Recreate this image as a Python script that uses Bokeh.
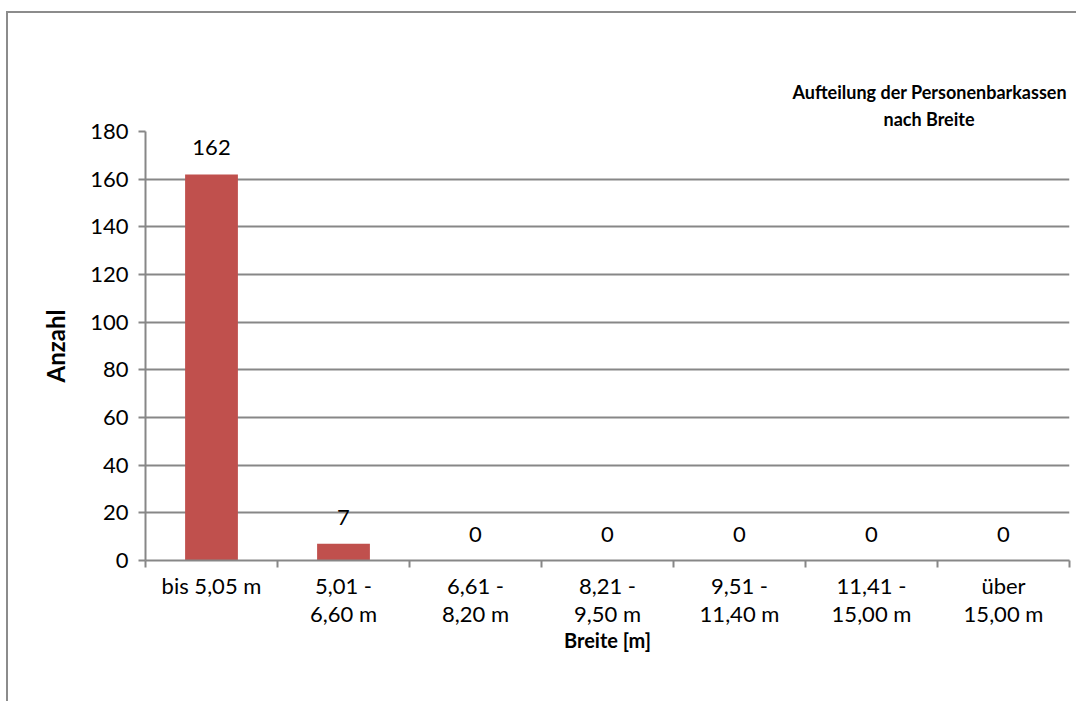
from bokeh.plotting import figure
from bokeh.models import FixedTicker, Title, ColumnDataSource
from bokeh.embed import file_html
from bokeh.resources import INLINE
from bokeh.core.properties import value

categories = ["bis 5,05 m", "5,01 -\n6,60 m", "6,61 -\n8,20 m", "8,21 -\n9,50 m",
              "9,51 -\n11,40 m", "11,41 -\n15,00 m", "über\n15,00 m"]
counts = [162, 7, 0, 0, 0, 0, 0]
y_ticks = [0, 20, 40, 60, 80, 100, 120, 140, 160, 180]
title_lines = ["Aufteilung der Personenbarkassen", "nach Breite"]

FONT = "Lato"
GRAY = "#878787"
BAR = "#C0504D"

xs = list(range(len(categories)))
src = ColumnDataSource(dict(x=xs, top=counts, lbl=[str(c) for c in counts]))

p = figure(width=1070, height=690, output_backend="svg", toolbar_location=None,
           x_range=(-0.5, len(categories) - 0.5), y_range=(0, 180),
           min_border_left=137, min_border_right=9, min_border_top=118, min_border_bottom=143)
p.styles = {"border-left": "2px solid #8c8c8c", "border-top": "2px solid #8c8c8c",
            "margin-left": "6px", "margin-top": "11px"}
p.outline_line_color = None

p.vbar(x="x", top="top", width=0.4, source=src, fill_color=BAR, line_color=None)
p.text(x="x", y="top", text="lbl", source=src, text_align="center", text_baseline="bottom",
       y_offset=-19, text_font=value(FONT), text_font_size="22px", text_color="black")

# x axis
p.xaxis.ticker = FixedTicker(ticks=xs, minor_ticks=[i - 0.5 for i in range(len(categories) + 1)])
p.xaxis.major_label_overrides = {i: c for i, c in enumerate(categories)}
p.xaxis.major_tick_line_color = None
p.xaxis.minor_tick_out = 7
p.xaxis.minor_tick_in = 0
p.xaxis.minor_tick_line_color = GRAY
p.xaxis.minor_tick_line_width = 2
p.xaxis.axis_line_color = GRAY
p.xaxis.axis_line_width = 2
p.xaxis.major_label_text_font = FONT
p.xaxis.major_label_text_font_size = "22px"
p.xaxis.major_label_text_line_height = 1.07
p.xaxis.major_label_text_color = "black"
p.xaxis.major_label_standoff = 4
p.xaxis.axis_label = "Breite [m]"
p.xaxis.axis_label_text_font = FONT
p.xaxis.axis_label_text_font_style = "bold"
p.xaxis.axis_label_text_font_size = "20px"
p.xaxis.axis_label_text_color = "black"
p.xaxis.axis_label_standoff = -2

# y axis
p.yaxis.ticker = FixedTicker(ticks=y_ticks)
p.yaxis.major_tick_out = 7
p.yaxis.major_tick_in = 0
p.yaxis.major_tick_line_color = GRAY
p.yaxis.major_tick_line_width = 2
p.yaxis.minor_tick_line_color = None
p.yaxis.axis_line_color = GRAY
p.yaxis.axis_line_width = 2
p.yaxis.major_label_text_font = FONT
p.yaxis.major_label_text_font_size = "22px"
p.yaxis.major_label_text_color = "black"
p.yaxis.major_label_standoff = 10
p.yaxis.axis_label = "Anzahl"
p.yaxis.axis_label_text_font = FONT
p.yaxis.axis_label_text_font_style = "bold"
p.yaxis.axis_label_text_font_size = "24px"
p.yaxis.axis_label_text_color = "black"
p.yaxis.axis_label_standoff = 17

p.xgrid.grid_line_color = None
p.ygrid.ticker = FixedTicker(ticks=y_ticks)
p.ygrid.grid_line_color = GRAY
p.ygrid.grid_line_width = 2

# title: first added sits closest to the frame; left-aligned with offsets so
# the two lines are centred on one another at the upper right
for txt, off, so in zip(reversed(title_lines), [738, 647], [4, 1]):
    p.add_layout(Title(text=txt, align="left", offset=off, standoff=so,
                       text_font=FONT, text_font_style="bold", text_font_size="18px",
                       text_color="black"), "above")

open("out.html", "w").write(file_html(p, INLINE))
